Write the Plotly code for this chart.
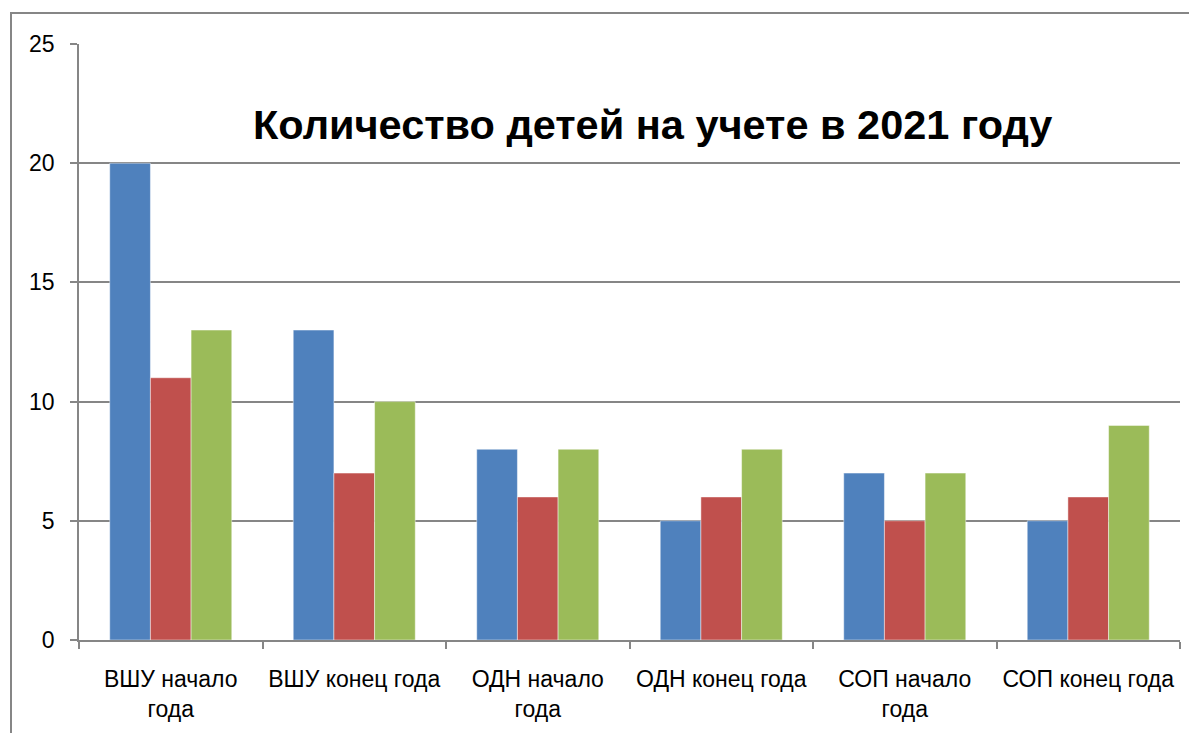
import plotly.graph_objects as go

categories = ["ВШУ начало<br>года", "ВШУ конец года", "ОДН начало<br>года",
              "ОДН конец года", "СОП начало<br>года", "СОП конец года"]
series1 = [20, 13, 8, 5, 7, 5]
series2 = [11, 7, 6, 6, 5, 6]
series3 = [13, 10, 8, 8, 7, 9]
title_text = "Количество детей на учете в 2021 году"
y_ticks = [0, 5, 10, 15, 20, 25]

colors = ["#4F81BD", "#C0504D", "#9BBB59"]
font_family = "Liberation Sans, Arial, sans-serif"

fig = go.Figure()
for vals, col, name in zip([series1, series2, series3], colors, ["Ряд 1", "Ряд 2", "Ряд 3"]):
    fig.add_trace(go.Bar(x=categories, y=vals, name=name,
                         marker=dict(color=col, line=dict(color="rgba(255,255,255,0.45)", width=1))))

OFF = 8  # page body margin
W, H = 1197 - OFF, 733 - OFF
L, R, T, B = 79 - OFF, 17, 44 - OFF, 93
pw, ph = W - L - R, H - T - B
px0, py0 = 79, 640  # page coords of plot origin


def px_to_paper_x(x):
    return (x - px0) / pw


def px_to_paper_y(y):
    return (py0 - y) / ph


fig.update_layout(
    width=W, height=H,
    margin=dict(l=L, r=R, t=T, b=B, autoexpand=False),
    paper_bgcolor="white", plot_bgcolor="white",
    barmode="group", bargap=0.335, bargroupgap=0,
    showlegend=False,
    font=dict(family=font_family, size=23, color="black"),
)
fig.update_yaxes(range=[0, 25], tickvals=y_ticks, showgrid=True, gridcolor="#868686", gridwidth=1.5,
                 showline=True, linecolor="#868686", linewidth=1.5,
                 ticks="outside", ticklen=7, tickcolor="#868686", tickwidth=1.5,
                 ticklabelstandoff=11, zeroline=False, automargin=False)
fig.update_xaxes(showgrid=False, showline=True, linecolor="#868686", linewidth=1.5,
                 ticks="outside", ticklen=7, tickcolor="#868686", tickwidth=1.5,
                 tickson="boundaries", ticklabelstandoff=18, tickangle=0, automargin=False)

fig.add_annotation(text=f"<b>{title_text}</b>", xref="paper", yref="paper",
                   x=px_to_paper_x(652), y=px_to_paper_y(124), xanchor="center", yanchor="middle",
                   showarrow=False, font=dict(family=font_family, size=41.5, color="black"))

fig.add_shape(type="rect", xref="paper", yref="paper",
              x0=px_to_paper_x(11), x1=px_to_paper_x(1230),
              y0=px_to_paper_y(760), y1=px_to_paper_y(13),
              line=dict(color="#868686", width=2), fillcolor="rgba(0,0,0,0)", layer="below")

fig.write_html("out.html")
